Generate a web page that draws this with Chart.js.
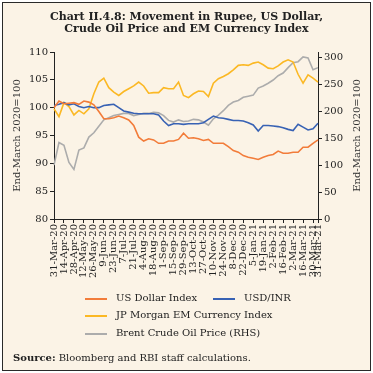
<!DOCTYPE html>
<html>
<head>
<meta charset="utf-8">
<script src="https://cdn.jsdelivr.net/npm/chart.js@4.4.1/dist/chart.umd.min.js"></script>
<style>
  html, body { margin: 0; padding: 0; background: #fff; }
  #frame {
    position: absolute; left: 2px; top: 2px; width: 369px; height: 369px;
    box-sizing: border-box; border: 1.5px solid #2a2a2a; background: #fbf3e6;
  }
  #chart { position: absolute; left: 0; top: 0; }
  .title {
    position: absolute; left: 0; top: 11px; width: 373px; text-align: center;
    font: bold 11px 'DejaVu Serif'; line-height: 11.5px; color: #222;
  }
  .legend-item {
    position: absolute; height: 12px; line-height: 12px; white-space: nowrap;
    font: 10px 'DejaVu Serif'; color: #222;
  }
  .legend-item i {
    display: inline-block; width: 22px; height: 2px; margin-right: 9px; vertical-align: middle;
  }
  .source {
    position: absolute; left: 13px; top: 352px; font: 10px 'DejaVu Serif'; color: #222;
  }
</style>
</head>
<body>
<div id="frame"></div>
<canvas id="chart" width="373" height="373"></canvas>
<div class="title">Chart II.4.8: Movement in Rupee, US Dollar,<br>Crude Oil Price and EM Currency Index</div>
<div id="legend"></div>
<div class="source"><b>Source:</b> Bloomberg and RBI staff calculations.</div>
<script>
// weekly points, 31-Mar-20 .. 30-Mar-21, plus 31-Mar-21
const weeks = [
  '31-Mar-20', '7-Apr-20', '14-Apr-20', '21-Apr-20', '28-Apr-20', '5-May-20', '12-May-20', '19-May-20', '26-May-20', '2-Jun-20',
  '9-Jun-20', '16-Jun-20', '23-Jun-20', '30-Jun-20', '7-Jul-20', '14-Jul-20', '21-Jul-20', '28-Jul-20', '4-Aug-20', '11-Aug-20',
  '18-Aug-20', '25-Aug-20', '1-Sep-20', '8-Sep-20', '15-Sep-20', '22-Sep-20', '29-Sep-20', '6-Oct-20', '13-Oct-20', '20-Oct-20',
  '27-Oct-20', '3-Nov-20', '10-Nov-20', '17-Nov-20', '24-Nov-20', '1-Dec-20', '8-Dec-20', '15-Dec-20', '22-Dec-20', '29-Dec-20',
  '5-Jan-21', '12-Jan-21', '19-Jan-21', '26-Jan-21', '2-Feb-21', '9-Feb-21', '16-Feb-21', '23-Feb-21', '2-Mar-21', '9-Mar-21',
  '16-Mar-21', '23-Mar-21', '30-Mar-21', '31-Mar-21'
];

const shownTicks = [
  '31-Mar-20', '14-Apr-20', '28-Apr-20', '12-May-20', '26-May-20', '9-Jun-20', '23-Jun-20', '7-Jul-20', '21-Jul-20', '4-Aug-20',
  '18-Aug-20', '1-Sep-20', '15-Sep-20', '29-Sep-20', '13-Oct-20', '27-Oct-20', '10-Nov-20', '24-Nov-20', '8-Dec-20', '22-Dec-20',
  '5-Jan-21', '19-Jan-21', '2-Feb-21', '16-Feb-21', '2-Mar-21', '16-Mar-21', '30-Mar-21', '31-Mar-21'
];

const leftTicks = [80, 85, 90, 95, 100, 105, 110];
const rightTicks = [0, 50, 100, 150, 200, 250, 300];

const usDollarIndex = [
  100.0, 101.2, 100.7, 100.8, 100.9, 100.6, 101.2, 101.0, 100.5, 99.3,
  98.0, 98.0, 98.2, 98.5, 98.2, 97.8, 96.8, 94.7, 94.0, 94.4,
  94.2, 93.6, 93.6, 94.0, 94.0, 94.3, 95.4, 94.5, 94.6, 94.4,
  94.1, 94.3, 93.6, 93.6, 93.6, 93.0, 92.3, 92.0, 91.4, 91.1,
  90.9, 90.7, 91.1, 91.4, 91.6, 92.2, 91.8, 91.8, 92.0, 92.0,
  92.9, 92.9, 93.6, 94.2
];

const usdInr = [
  100.4, 100.6, 100.9, 100.5, 100.7, 100.2, 100.0, 100.2, 100.0, 100.0,
  100.4, 100.5, 100.6, 100.0, 99.4, 99.2, 99.0, 98.9, 98.9, 98.9,
  98.9, 98.7, 97.6, 96.8, 97.1, 97.1, 97.0, 97.1, 97.1, 97.1,
  97.3, 97.9, 98.5, 98.2, 98.1, 97.9, 97.7, 97.7, 97.6, 97.3,
  96.9, 95.8, 96.8, 96.8, 96.7, 96.6, 96.4, 96.1, 95.9, 97.0,
  96.5, 96.0, 96.2, 97.2
];

const jpMorganEm = [
  99.8, 98.4, 100.9, 100.2, 98.7, 99.5, 98.9, 99.8, 102.5, 104.6,
  105.3, 103.6, 102.8, 102.2, 102.9, 103.4, 103.9, 104.6, 103.9, 102.6,
  102.7, 102.7, 103.6, 103.4, 103.4, 104.6, 102.2, 101.8, 102.5, 103.0,
  102.9, 102.0, 104.4, 105.2, 105.6, 106.1, 106.8, 107.6, 107.7, 107.6,
  108.0, 108.2, 107.7, 107.1, 107.0, 107.5, 108.2, 108.6, 108.2, 106.0,
  104.4, 105.9, 105.3, 104.6
];

const brentCrude = [
  100, 142, 137, 105, 92, 128, 132, 152, 160, 172,
  184, 188, 192, 194, 196, 196, 192, 194, 196, 196,
  198, 197, 192, 183, 180, 184, 181, 182, 185, 184,
  180, 174, 186, 193, 201, 211, 217, 220, 226, 228,
  230, 243, 247, 252, 258, 266, 271, 281, 290, 292,
  301, 299, 277, 281
];

const seriesNames = ['US Dollar Index', 'USD/INR', 'JP Morgan EM Currency Index', 'Brent Crude Oil Price (RHS)'];
const seriesColors = ['#f27c3a', '#3862b4', '#fbb824', '#acacac'];

const axisColor = '#222';
const tickFont = { family: 'DejaVu Serif', size: 10 };

// the right-hand title reads bottom to top, like the left one
const rightTitle = {
  id: 'rightTitle',
  afterDraw(chart) {
    const s = chart.scales.y2;
    const ctx = chart.ctx;
    ctx.save();
    ctx.translate(s.right - 16, (s.top + s.bottom) / 2);
    ctx.rotate(-Math.PI / 2);
    ctx.font = '10px "DejaVu Serif"';
    ctx.fillStyle = '#333';
    ctx.textAlign = 'center';
    ctx.textBaseline = 'middle';
    ctx.fillText('End-March 2020=100', 0, 0);
    ctx.restore();
  }
};

function line(label, data, color, axis) {
  return {
    label,
    data,
    yAxisID: axis,
    borderColor: color,
    backgroundColor: color,
    borderWidth: 1.6,
    pointRadius: 0,
    tension: 0
  };
}

function axisStyle() {
  return {
    grid: { drawOnChartArea: false, tickLength: 4, color: axisColor },
    border: { color: axisColor, width: 1 }
  };
}

const chart = new Chart(document.getElementById('chart'), {
  type: 'line',
  data: {
    labels: weeks,
    datasets: [
      line(seriesNames[0], usDollarIndex, seriesColors[0], 'y'),
      line(seriesNames[1], usdInr, seriesColors[1], 'y'),
      line(seriesNames[2], jpMorganEm, seriesColors[2], 'y'),
      line(seriesNames[3], brentCrude, seriesColors[3], 'y2')
    ]
  },
  options: {
    responsive: false,
    animation: false,
    layout: { padding: { top: 52, left: 0, right: 0, bottom: 0 } },
    plugins: {
      legend: { display: false },
      tooltip: { enabled: false }
    },
    scales: {
      x: {
        type: 'category',
        offset: false,
        afterBuildTicks: scale => {
          scale.ticks = scale.ticks.filter(t => shownTicks.includes(weeks[t.value]));
        },
        afterFit: scale => { scale.height = 154; },
        ticks: {
          autoSkip: false,
          minRotation: 90,
          maxRotation: 90,
          padding: 1,
          font: tickFont,
          color: axisColor,
          callback: function (value) { return this.getLabelForValue(value); }
        },
        ...axisStyle()
      },
      y: {
        position: 'left',
        min: 80,
        max: 110,
        afterFit: scale => { scale.width = 54; },
        afterBuildTicks: scale => { scale.ticks = leftTicks.map(value => ({ value })); },
        ticks: { autoSkip: false, padding: 2, font: tickFont, color: axisColor },
        ...axisStyle(),
        title: {
          display: true,
          text: 'End-March 2020=100',
          font: tickFont,
          color: '#333',
          padding: { top: 11.5, bottom: 0 }
        }
      },
      y2: {
        position: 'right',
        min: 0,
        max: 310,
        afterFit: scale => { scale.width = 55; },
        afterBuildTicks: scale => { scale.ticks = rightTicks.map(value => ({ value })); },
        ticks: { autoSkip: false, padding: 2, font: tickFont, color: axisColor },
        ...axisStyle()
      }
    }
  },
  plugins: [rightTitle]
});

// html legend, laid out like the original (two names on the first row)
const legendSpots = [
  { left: 85, top: 292 },
  { left: 213, top: 292 },
  { left: 85, top: 309 },
  { left: 85, top: 327 }
];

const legend = document.getElementById('legend');
chart.data.datasets.forEach((ds, i) => {
  const item = document.createElement('div');
  item.className = 'legend-item';
  item.style.left = legendSpots[i].left + 'px';
  item.style.top = legendSpots[i].top + 'px';
  const swatch = document.createElement('i');
  swatch.style.background = ds.borderColor;
  item.appendChild(swatch);
  item.appendChild(document.createTextNode(ds.label));
  legend.appendChild(item);
});
</script>
</body>
</html>
